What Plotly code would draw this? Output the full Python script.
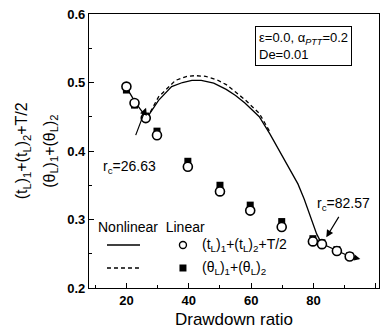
import plotly.graph_objects as go

# ---- data ----
nl_solid_x = [20, 23, 26.6, 27.1, 30.3, 34.5, 38, 41, 44, 48, 52, 55, 58, 62.6, 66, 69, 72, 75, 77, 78.7, 81, 82.6, 85, 87.5, 91.6, 94.0]
nl_solid_y = [0.493, 0.470, 0.448, 0.452, 0.474, 0.494, 0.500, 0.503, 0.503, 0.499, 0.490, 0.481, 0.470, 0.450, 0.425, 0.400, 0.375, 0.352, 0.330, 0.308, 0.279, 0.265, 0.260, 0.254, 0.246, 0.243]
nl_dash_x = [26.6, 30.3, 35.7, 39.4, 42, 45.4, 49, 52, 55, 58, 62.6, 66]
nl_dash_y = [0.448, 0.479, 0.503, 0.509, 0.510, 0.509, 0.504, 0.497, 0.486, 0.475, 0.455, 0.428]

lin_t_x = [20, 22.6, 26.2, 29.8, 39.7, 50, 59.7, 69.8, 79.8, 82.7, 87.5, 91.6]
lin_t_y = [0.494, 0.470, 0.448, 0.423, 0.377, 0.341, 0.313, 0.289, 0.268, 0.264, 0.254, 0.246]
lin_th_x = [20, 22.6, 26.2, 29.8, 39.7, 50, 59.7, 69.8, 79.8, 82.7, 87.5, 91.6]
lin_th_y = [0.489, 0.467, 0.451, 0.429, 0.385, 0.350, 0.321, 0.297, 0.272, 0.266, 0.256, 0.247]

x_ticks = [20, 40, 60, 80, 100]
y_ticks = [0.2, 0.3, 0.4, 0.5, 0.6]

FONT = "Liberation Sans, Arial, sans-serif"

fig = go.Figure()
fig.add_trace(go.Scatter(x=nl_dash_x, y=nl_dash_y, mode="lines",
                         line=dict(color="black", width=1.3, dash="4px,3px"), showlegend=False))
fig.add_trace(go.Scatter(x=nl_solid_x, y=nl_solid_y, mode="lines",
                         line=dict(color="black", width=1.3), showlegend=False))
fig.add_trace(go.Scatter(x=lin_th_x, y=lin_th_y, mode="markers",
                         marker=dict(symbol="square", size=7, color="black"), showlegend=False))
fig.add_trace(go.Scatter(x=lin_t_x, y=lin_t_y, mode="markers",
                         marker=dict(symbol="circle", size=9, color="white",
                                     line=dict(color="black", width=1.6)), showlegend=False))

# arrows
fig.add_annotation(x=26.3, y=0.463, ax=22.8, ay=0.421, xref="x", yref="y", axref="x", ayref="y",
                   text="", showarrow=True, arrowhead=2, arrowsize=1.2, arrowwidth=1.2, arrowcolor="black")
fig.add_annotation(x=84.1, y=0.274, ax=88.4, ay=0.306, xref="x", yref="y", axref="x", ayref="y",
                   text="", showarrow=True, arrowhead=2, arrowsize=1.2, arrowwidth=1.2, arrowcolor="black")
fig.add_annotation(x=95.0, y=0.2425, ax=92.5, ay=0.245, xref="x", yref="y", axref="x", ayref="y",
                   text="", showarrow=True, arrowhead=2, arrowsize=1.0, arrowwidth=1.2, arrowcolor="black")

fig.add_annotation(x=21.0, y=0.376, xref="x", yref="y", showarrow=False,
                   text="r<sub>c</sub>=26.63", font=dict(family=FONT, size=14, color="black"))
fig.add_annotation(x=89.7, y=0.323, xref="x", yref="y", showarrow=False,
                   text="r<sub>c</sub>=82.57", font=dict(family=FONT, size=14, color="black"))

# parameter box
fig.add_annotation(x=0.738, y=0.885, xref="paper", yref="paper", showarrow=False,
                   text="ε=0.0, α<sub><i>PTT</i></sub>=0.2<br>De=0.01", align="left",
                   xanchor="center", yanchor="middle",
                   bordercolor="black", borderwidth=1, borderpad=3, bgcolor="white",
                   font=dict(family=FONT, size=13, color="black"))

# legend
fig.add_annotation(x=0.024, y=0.223, xref="paper", yref="paper", showarrow=False,
                   xanchor="left", yanchor="middle", text="Nonlinear  Linear",
                   font=dict(family=FONT, size=14, color="black"))
fig.add_annotation(x=0.383, y=0.157, xref="paper", yref="paper", showarrow=False,
                   xanchor="left", yanchor="middle",
                   text="(t<sub>L</sub>)<sub>1</sub>+(t<sub>L</sub>)<sub>2</sub>+T/2",
                   font=dict(family=FONT, size=14, color="black"))
fig.add_annotation(x=0.383, y=0.073, xref="paper", yref="paper", showarrow=False,
                   xanchor="left", yanchor="middle",
                   text="(θ<sub>L</sub>)<sub>1</sub>+(θ<sub>L</sub>)<sub>2</sub>",
                   font=dict(family=FONT, size=14, color="black"))
fig.add_shape(type="line", xref="paper", yref="paper", x0=0.062, x1=0.176, y0=0.157, y1=0.157,
              line=dict(color="black", width=1.3))
fig.add_shape(type="line", xref="paper", yref="paper", x0=0.062, x1=0.176, y0=0.073, y1=0.073,
              line=dict(color="black", width=1.3, dash="4px,3px"))
fig.add_shape(type="circle", xref="paper", yref="paper", xsizemode="pixel", ysizemode="pixel",
              xanchor=0.324, yanchor=0.157, x0=-3.5, x1=3.5, y0=-3.5, y1=3.5,
              line=dict(color="black", width=1.4), fillcolor="white")
fig.add_shape(type="rect", xref="paper", yref="paper", xsizemode="pixel", ysizemode="pixel",
              xanchor=0.324, yanchor=0.073, x0=-3.5, x1=3.5, y0=-3.5, y1=3.5,
              line=dict(color="black", width=0), fillcolor="black")

# y-axis titles (two lines)
fig.add_annotation(x=-0.23, y=0.5, xref="paper", yref="paper", showarrow=False, textangle=-90,
                   xanchor="center", yanchor="middle",
                   text="(t<sub>L</sub>)<sub>1</sub>+(t<sub>L</sub>)<sub>2</sub>+T/2",
                   font=dict(family=FONT, size=16, color="black"))
fig.add_annotation(x=-0.135, y=0.5, xref="paper", yref="paper", showarrow=False, textangle=-90,
                   xanchor="center", yanchor="middle",
                   text="(θ<sub>L</sub>)<sub>1</sub>+(θ<sub>L</sub>)<sub>2</sub>",
                   font=dict(family=FONT, size=16, color="black"))

fig.update_xaxes(range=[8, 101], tickvals=x_ticks, ticktext=[str(v) for v in x_ticks],
                 ticks="inside", ticklen=5, tickwidth=1.2, tickcolor="black",
                 minor=dict(tickvals=[10, 30, 50, 70, 90], ticks="inside", ticklen=3, tickcolor="black"),
                 showline=True, linecolor="black", linewidth=1.3, mirror=True,
                 showgrid=False, zeroline=False,
                 tickfont=dict(family=FONT, size=13, color="black", weight="bold"),
                 title=dict(text="Drawdown ratio", standoff=6,
                            font=dict(family=FONT, size=17, color="black")))
fig.update_yaxes(range=[0.2, 0.6], tickvals=y_ticks, ticktext=["0.2", "0.3", "0.4", "0.5", "0.6"],
                 ticks="inside", ticklen=5, tickwidth=1.2, tickcolor="black",
                 minor=dict(tickvals=[0.25, 0.35, 0.45, 0.55], ticks="inside", ticklen=3, tickcolor="black"),
                 showline=True, linecolor="black", linewidth=1.3, mirror=True,
                 showgrid=False, zeroline=False,
                 tickfont=dict(family=FONT, size=13, color="black", weight="bold"))

fig.update_layout(width=385, height=333, margin=dict(l=89, r=6, t=14, b=45),
                  plot_bgcolor="white", paper_bgcolor="white", showlegend=False)

fig.write_html("out.html")
